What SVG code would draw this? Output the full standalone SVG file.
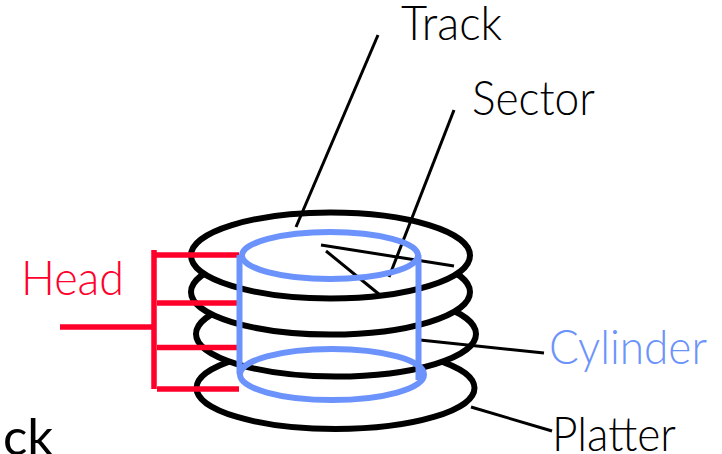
<svg xmlns="http://www.w3.org/2000/svg" width="722" height="454" viewBox="0 0 722 454">
<style>
.p{fill:#fff;stroke:#000;stroke-width:6}
.l{stroke:#000;stroke-width:3;fill:none}
.r{stroke:#ff002b;stroke-width:5.500;fill:none}
.b{stroke:#6c93fb;stroke-width:6;fill:none}
text{font-family:"Lato","Open Sans","Liberation Sans",sans-serif;font-weight:300;font-size:47px;fill:#000}
</style>
<rect width="722" height="454" fill="#fff"/>
<g id="platters">
<ellipse id="platter4" class="p" cx="335.500" cy="388" rx="139" ry="41"/>
<ellipse id="platter3" class="p" cx="336" cy="334" rx="140" ry="42.500"/>
<ellipse id="platter2" class="p" cx="330.500" cy="292" rx="139.500" ry="42.500"/>
<ellipse id="platter1" class="p" cx="330.500" cy="255.500" rx="139.500" ry="43"/>
</g>
<g id="connectors">
<line class="l" x1="378" y1="35" x2="296" y2="227"/>
<line class="l" x1="454" y1="110" x2="389" y2="277"/>
<line class="l" x1="321" y1="245" x2="454" y2="266"/>
<line class="l" x1="326" y1="251" x2="380" y2="295"/>
<line class="l" x1="420" y1="340" x2="544" y2="353"/>
<line class="l" x1="471" y1="407" x2="552" y2="431"/>
</g>
<g id="head">
<path class="r" d="M154 250V389M60 327H156M155 255H239M157 303H239M157 347.500H239M157 389H239"/>
</g>
<g id="cylinder">
<ellipse class="b" cx="330" cy="255.500" rx="88" ry="23.500"/>
<ellipse class="b" cx="332" cy="374.500" rx="92" ry="25.500"/>
<path class="b" d="M239.500 255V374M418.500 255V380"/>
</g>
<g id="labels">
<text x="401" y="40" textLength="101" lengthAdjust="spacingAndGlyphs">Track</text>
<text x="472" y="115" textLength="123" lengthAdjust="spacingAndGlyphs">Sector</text>
<text x="21" y="295" textLength="103" lengthAdjust="spacingAndGlyphs" style="fill:#ff002b">Head</text>
<text x="549" y="364" textLength="158" lengthAdjust="spacingAndGlyphs" style="fill:#6c93fb">Cylinder</text>
<text x="552" y="451" textLength="124" lengthAdjust="spacingAndGlyphs">Platter</text>
<text x="3" y="455" style="font-weight:400;font-size:51px">ck</text>
</g>
</svg>
